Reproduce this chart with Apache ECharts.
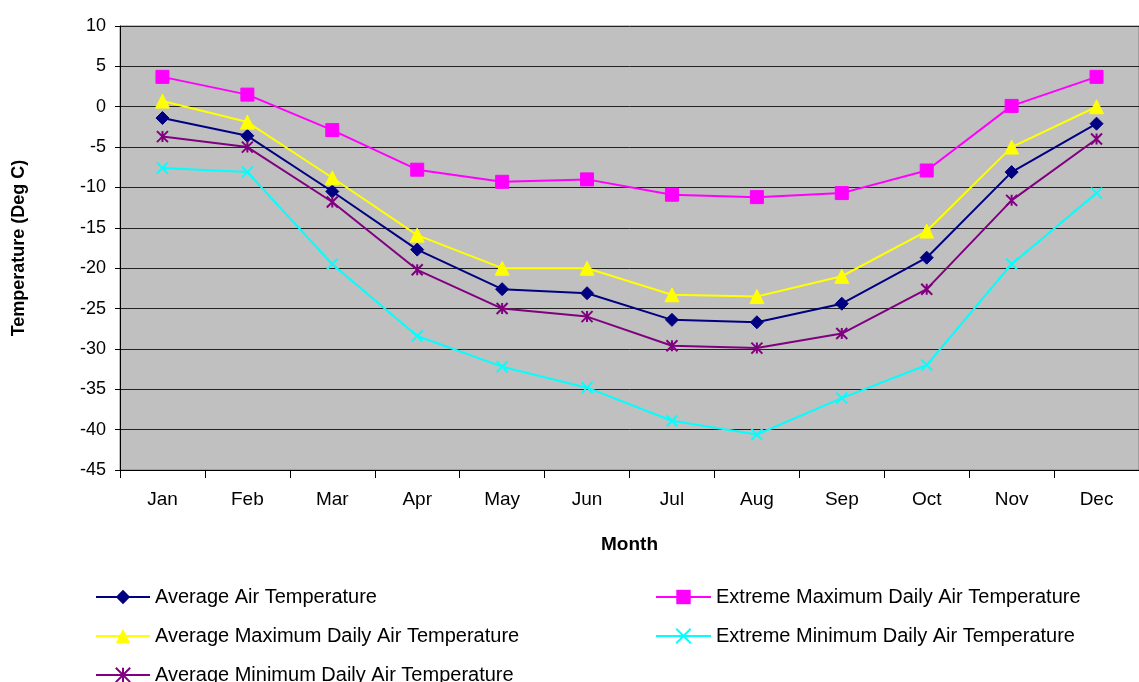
<!DOCTYPE html>
<html><head><meta charset="utf-8">
<script src="https://cdn.jsdelivr.net/npm/echarts@6/dist/echarts.min.js"></script>
<style>html,body{margin:0;padding:0;background:#fff}#c{width:1139px;height:682px}</style>
</head><body><div id="c"></div>
<script>
const months = ['Jan','Feb','Mar','Apr','May','Jun','Jul','Aug','Sep','Oct','Nov','Dec'];
const avgAir = [-1.4,-3.6,-10.5,-17.7,-22.6,-23.1,-26.4,-26.7,-24.4,-18.7,-8.1,-2.1];
const avgMax = [0.7,-1.9,-8.8,-15.9,-20.0,-20.0,-23.3,-23.5,-21.0,-15.4,-5.0,0.0];
const avgMin = [-3.7,-5.0,-11.8,-20.2,-25.0,-26.0,-29.6,-29.9,-28.1,-22.6,-11.6,-4.0];
const extMax = [3.7,1.5,-2.9,-7.8,-9.3,-9.0,-10.9,-11.2,-10.7,-7.9,0.1,3.7];
const extMin = [-7.6,-8.1,-19.5,-28.4,-32.2,-34.8,-38.9,-40.6,-36.1,-32.0,-19.5,-10.7];
const yTicks = {min:-45, max:10, interval:5};

const F = 'Liberation Sans, Arial, sans-serif';
const xPath = 'path://M0,0L10,10M10,0L0,10';
const starPath = 'path://M5,0L5,10M0,0L10,10M10,0L0,10';
function s(name, data, color, symbol, size, stroke) {
  return {
    name, type:'line', data, symbol, symbolSize:size,
    lineStyle:{color, width:2},
    itemStyle: stroke ? {color:'none', borderColor:color, borderWidth:2} : {color, borderColor:color},
    emphasis:{disabled:true}, animation:false, z:3
  };
}
const legendText = {color:'#000', fontFamily:F, fontSize:20};
const chart = echarts.init(document.getElementById('c'), null, {renderer:'canvas'});
chart.setOption({
  animation:false,
  grid:{left:120, top:26, width:1025, height:444, show:true, backgroundColor:'#C0C0C0', borderColor:'#808080', borderWidth:1},
  xAxis:{
    type:'category', data:months, boundaryGap:true,
    axisLine:{onZero:false, lineStyle:{color:'#000', width:1}},
    axisTick:{show:true, length:8, lineStyle:{color:'#000'}},
    axisLabel:{color:'#000', fontFamily:F, fontSize:19, margin:20},
    name:'Month', nameLocation:'middle', nameGap:65,
    nameTextStyle:{color:'#000', fontFamily:F, fontSize:19, fontWeight:'bold'}
  },
  yAxis:{
    type:'value', min:yTicks.min, max:yTicks.max, interval:yTicks.interval,
    axisLine:{show:true, lineStyle:{color:'#000', width:1}},
    axisTick:{show:true, length:5, lineStyle:{color:'#000'}},
    axisLabel:{color:'#000', fontFamily:F, fontSize:18, margin:14},
    splitLine:{show:true, lineStyle:{color:'#222', width:1}},
    name:'Temperature (Deg C)', nameLocation:'middle', nameGap:92, nameRotate:90,
    nameTextStyle:{color:'#000', fontFamily:F, fontSize:18, fontWeight:'bold'}
  },
  legend:[
    {orient:'vertical', left:90, top:582, height:120, itemWidth:54, itemHeight:18, itemGap:19,
     textStyle:legendText,
     data:['Average Air Temperature','Average Maximum Daily Air Temperature','Average Minimum Daily Air Temperature']},
    {orient:'vertical', left:650, top:582, height:120, itemWidth:55, itemHeight:18, itemGap:19,
     textStyle:legendText,
     data:['Extreme Maximum Daily Air Temperature','Extreme Minimum Daily Air Temperature']}
  ],
  series:[
    s('Average Air Temperature', avgAir, '#000080', 'diamond', 13, false),
    s('Extreme Maximum Daily Air Temperature', extMax, '#FF00FF', 'rect', 13, false),
    s('Average Maximum Daily Air Temperature', avgMax, '#FFFF00', 'triangle', 14, false),
    s('Extreme Minimum Daily Air Temperature', extMin, '#00FFFF', xPath, 11, true),
    s('Average Minimum Daily Air Temperature', avgMin, '#800080', starPath, 11, true)
  ]
});
</script></body></html>
